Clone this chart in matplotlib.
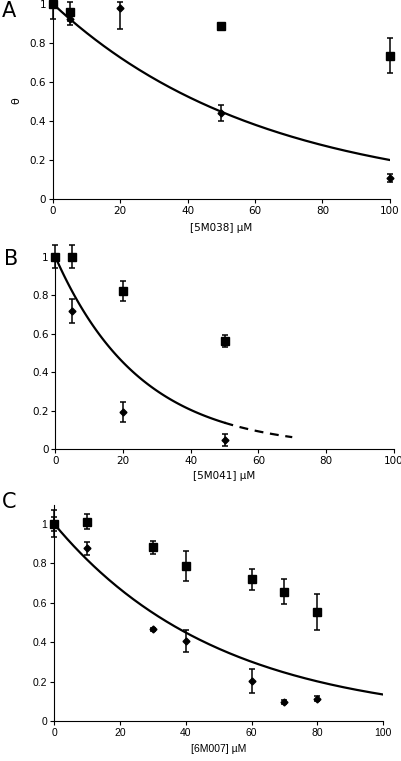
import matplotlib
matplotlib.use("Agg")
import matplotlib.pyplot as plt
import numpy as np

# panel A - [5M038]
a_sq_x = [0, 5, 50, 100]
a_sq_y = [1.0, 0.96, 0.884, 0.735]
a_sq_err = [0, 0.05, 0, 0.09]
a_di_x = [0, 5, 20, 50, 100]
a_di_y = [1.0, 0.92, 0.98, 0.44, 0.108]
a_di_lo = [0.08, 0.03, 0.11, 0.04, 0.02]
a_di_hi = [0.0, 0.03, 0.03, 0.04, 0.02]
a_k = 0.0161

# panel B - [5M041]
b_sq_x = [0, 5, 20, 50]
b_sq_y = [1.0, 1.0, 0.82, 0.562]
b_sq_err = [0, 0.06, 0.052, 0.03]
b_di_x = [0, 5, 20, 50]
b_di_y = [1.0, 0.72, 0.19, 0.045]
b_di_err = [0.06, 0.062, 0.052, 0.032]
b_k = 0.0398

# panel C - [6M007]
c_sq_x = [0, 10, 30, 40, 60, 70, 80]
c_sq_y = [1.0, 1.01, 0.88, 0.786, 0.72, 0.656, 0.553]
c_sq_err = [0.035, 0.037, 0.035, 0.078, 0.053, 0.063, 0.09]
c_di_x = [0, 10, 30, 40, 60, 70, 80]
c_di_y = [1.0, 0.875, 0.465, 0.408, 0.204, 0.098, 0.115]
c_di_err = [0.068, 0.032, 0.008, 0.055, 0.063, 0.012, 0.012]
c_k = 0.02

xticks = [0, 20, 40, 60, 80, 100]
yticks = [0, 0.2, 0.4, 0.6, 0.8, 1]
ytick_labels = ["0", "0.2", "0.4", "0.6", "0.8", "1"]

fig = plt.figure(figsize=(4.01, 7.61), dpi=100)


def style(ax, ymax, font):
    ax.set_xlim(0, 100)
    ax.set_ylim(0, ymax)
    ax.set_xticks(xticks)
    ax.set_yticks(yticks)
    ax.set_yticklabels(ytick_labels)
    for s in ["top", "right"]:
        ax.spines[s].set_visible(False)
    for s in ["left", "bottom"]:
        ax.spines[s].set_linewidth(0.8)
    ax.tick_params(direction="out", length=3, width=0.8, labelsize=7.5, pad=2)
    for lab in ax.get_xticklabels() + ax.get_yticklabels():
        lab.set_family(font)


def points(ax, x, y, err, marker, ms):
    ax.errorbar(x, y, yerr=err, fmt=marker, color="black", ms=ms,
                capsize=2.5, elinewidth=1.1, capthick=1.1, clip_on=False, zorder=3)


# A
ax1 = fig.add_axes([0.132, 0.7385, 0.840, 0.259])
style(ax1, 1.01, "DejaVu Sans")
xs = np.linspace(0, 100, 200)
ax1.plot(xs, np.exp(-a_k * xs), color="black", lw=1.6)
points(ax1, a_sq_x, a_sq_y, a_sq_err, "s", 5.5)
points(ax1, a_di_x, a_di_y, [a_di_lo, a_di_hi], "D", 3.5)
ax1.set_ylabel("θ", fontsize=8, labelpad=6)
ax1.set_xlabel("[5M038] µM", fontsize=7.5, labelpad=5)
fig.text(0.005, 0.985, "A", fontsize=15, va="center")

# B
ax2 = fig.add_axes([0.138, 0.41, 0.844, 0.255])
style(ax2, 1.01, "DejaVu Sans")
xs1 = np.linspace(0, 50, 120)
xs2 = np.linspace(50, 70, 40)
ax2.plot(xs1, np.exp(-b_k * xs1), color="black", lw=1.6)
ax2.plot(xs2, np.exp(-b_k * xs2), color="black", lw=1.6, ls=(0, (4, 3)))
points(ax2, b_sq_x, b_sq_y, b_sq_err, "s", 5.5)
points(ax2, b_di_x, b_di_y, b_di_err, "D", 3.5)
ax2.set_xlabel("[5M041] µM", fontsize=7.5, labelpad=4)
fig.text(0.01, 0.66, "B", fontsize=15, va="center")

# C
ax3 = fig.add_axes([0.1347, 0.0522, 0.821, 0.284])
style(ax3, 1.094, "Liberation Sans")
xs = np.linspace(0, 100, 200)
ax3.plot(xs, np.exp(-c_k * xs), color="black", lw=1.6)
points(ax3, c_sq_x, c_sq_y, c_sq_err, "s", 5.5)
points(ax3, c_di_x, c_di_y, c_di_err, "D", 3.5)
ax3.set_xlabel("[6M007] µM", fontsize=7.5, labelpad=4, family="Liberation Sans")
fig.text(0.005, 0.34, "C", fontsize=15, va="center")

fig.savefig("out.png", dpi=100)
